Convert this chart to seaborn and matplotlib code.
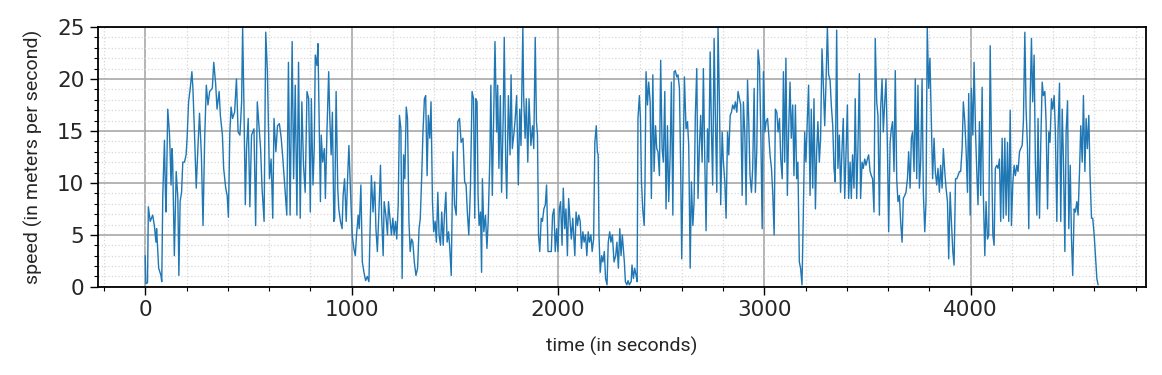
import matplotlib
matplotlib.use("Agg")
import matplotlib.pyplot as plt
from matplotlib.ticker import AutoMinorLocator
import seaborn as sns
import pandas as pd

# values (time in s, speed in m/s)
time_s = [
    0, 3, 11, 15, 24, 36, 44, 52, 55, 65, 76, 80, 85, 93, 98, 101, 109, 117, 120, 125,
    130, 133, 141, 150, 158, 163, 169, 176, 182, 190, 198, 203, 210, 218, 226, 231, 239, 247, 255, 263,
    272, 280, 288, 296, 304, 312, 325, 332, 341, 348, 358, 364, 374, 380, 390, 397, 403, 410, 416, 423,
    433, 442, 450, 459, 467, 472, 478, 485, 491, 499, 507, 515, 527, 535, 543, 553, 559, 566, 576, 584,
    592, 602, 610, 618, 624, 633, 641, 650, 659, 667, 678, 686, 694, 702, 712, 719, 727, 735, 743, 751,
    759, 767,
    775, 784, 792, 800, 805, 813, 819, 824, 832, 837, 844, 849, 853, 860, 868, 873, 881, 889, 894, 901,
    907, 914, 918, 925, 933, 938, 946, 954, 959, 966, 974, 980, 987, 995, 1003, 1011, 1018, 1024, 1032, 1037,
    1045, 1052, 1060, 1068, 1076, 1084, 1089, 1096, 1104, 1112, 1118, 1125, 1133, 1140, 1146, 1153, 1158, 1166, 1174, 1179,
    1187, 1193, 1200, 1206, 1213, 1219, 1226, 1232, 1239, 1245, 1252, 1258, 1265, 1271, 1278, 1284, 1291, 1297, 1304, 1312,
    1320, 1327, 1333, 1340, 1346, 1353, 1359, 1366, 1372, 1379, 1385, 1392, 1398, 1405, 1411, 1418, 1424, 1431, 1437, 1444,
    1450, 1457, 1463, 1470, 1476, 1483, 1491, 1499, 1507, 1515, 1523, 1531, 1540, 1548,
    1555, 1561, 1568, 1576, 1584, 1591, 1597, 1602, 1608, 1613, 1618, 1625, 1630, 1634, 1641, 1649, 1656, 1662, 1670, 1675,
    1682, 1688, 1695, 1703, 1708, 1714, 1721, 1727, 1735, 1740, 1747, 1752, 1760, 1768, 1773, 1779, 1786, 1792, 1800, 1808,
    1815, 1821, 1830, 1834, 1841, 1847, 1854, 1860, 1869, 1877, 1883, 1890, 1896, 1901, 1906, 1912, 1919, 1925, 1932, 1939,
    1945, 1952, 1958, 1968, 1974, 1981, 1987, 1994, 2000, 2007, 2013, 2020, 2026, 2033, 2039, 2046, 2052, 2059, 2065, 2072,
    2082, 2088, 2095, 2101, 2108, 2114, 2121, 2127, 2134, 2140, 2147, 2153, 2160, 2166, 2173, 2179, 2186, 2191, 2195, 2199,
    2205, 2212, 2218, 2225, 2231, 2238, 2244, 2251, 2257, 2264, 2272, 2280, 2286, 2293, 2300, 2306, 2312,
    2322, 2327, 2334, 2340, 2346, 2355, 2359, 2366, 2372, 2379, 2384, 2388, 2395, 2400, 2405, 2411, 2418, 2422, 2427, 2434,
    2440, 2447, 2453, 2460, 2466, 2473, 2479, 2485, 2492, 2498, 2505, 2511, 2518, 2524, 2531, 2537, 2544, 2550, 2557, 2563,
    2569, 2576, 2582, 2589, 2595, 2600, 2607, 2613, 2621, 2628, 2634, 2641, 2647, 2654, 2660, 2666, 2673, 2679, 2686, 2692,
    2699, 2705, 2712, 2718, 2725, 2731, 2738, 2744, 2750, 2757, 2763, 2770, 2776, 2783, 2789, 2796, 2802, 2809, 2815, 2822,
    2828, 2835, 2841, 2847, 2854, 2860, 2867, 2873, 2880, 2886, 2893, 2899, 2906, 2912, 2919, 2925, 2931, 2938, 2944, 2951,
    2957, 2964, 2970, 2977, 2983, 2990, 2996, 3003, 3009, 3016, 3022, 3028, 3035, 3041, 3048, 3054, 3061, 3067, 3074, 3080,
    3087, 3093,
    3099, 3105, 3112, 3118, 3125, 3131, 3138, 3144, 3151, 3157, 3163, 3170, 3176, 3183, 3189, 3196, 3202, 3209, 3215, 3222,
    3228, 3235, 3241, 3248, 3254, 3260, 3267, 3273, 3280, 3286, 3293, 3299, 3306, 3312, 3319, 3325, 3332, 3338, 3344, 3351,
    3357, 3364, 3370, 3377, 3383, 3390, 3396, 3403, 3409, 3416, 3422, 3428, 3435, 3441, 3448, 3454, 3461, 3467, 3474, 3480,
    3487, 3493, 3500, 3506, 3513, 3519, 3525, 3532, 3538, 3545, 3551, 3558, 3564, 3571, 3577, 3584, 3590, 3597, 3603, 3610,
    3616, 3622, 3629, 3635, 3642, 3648, 3655, 3661, 3668, 3674, 3681, 3687, 3694, 3700, 3707, 3713, 3719, 3726, 3732, 3739,
    3745, 3752, 3758, 3765, 3771, 3778, 3784, 3790, 3797, 3803, 3810, 3816, 3823, 3829, 3836, 3842, 3849, 3855, 3862, 3868,
    3875, 3881, 3888, 3894, 3901, 3907, 3914, 3920, 3927, 3933, 3939, 3946, 3952, 3959, 3965, 3972, 3978, 3985, 3991, 3998,
    4004, 4011, 4017, 4024, 4030, 4036, 4043, 4049, 4056, 4062, 4069, 4075, 4082, 4088, 4095, 4101, 4108, 4114, 4120, 4127,
    4133, 4140, 4146, 4153, 4159, 4166, 4172, 4179, 4185, 4192, 4198, 4205, 4211, 4217, 4224, 4230, 4237, 4243, 4250, 4256,
    4263, 4269, 4276, 4282, 4289, 4295, 4301, 4308, 4314, 4321, 4327, 4334, 4340, 4347, 4353, 4360, 4366, 4373, 4379, 4385,
    4392, 4398, 4405, 4411, 4418, 4424, 4431, 4437, 4444, 4450, 4457, 4463, 4470, 4476, 4483, 4489, 4495, 4502, 4508, 4515,
    4521, 4528, 4534, 4541, 4547, 4554, 4560, 4566, 4573, 4579, 4586, 4592, 4599, 4605, 4612, 4618,
]
speed_ms = [
    3.0, 0.3, 0.4, 7.7, 6.3, 6.9, 5.9, 4.3, 5.6, 1.8, 1.1, 0.5, 8.8, 14.1, 8.8, 7.2, 17.1, 14.9, 13.3, 9.8,
    13.3, 12.0, 3.0, 11.1, 8.5, 1.1, 8.2, 9.1, 12.0, 12.0, 12.7, 14.4, 17.8, 19.1, 20.7, 19.1, 14.6, 9.5, 13.3, 16.7,
    12.7, 5.9, 14.3, 19.4, 17.5, 18.8, 19.1, 21.6, 19.6, 17.1, 18.8, 16.5, 14.6, 11.4, 9.5, 8.8, 6.7, 14.9, 17.3, 16.2,
    16.8, 20.0, 14.9, 14.6, 17.8, 25.0, 17.8, 7.9, 13.3, 16.2, 7.7, 14.6, 15.2, 5.9, 17.8, 14.9, 13.3, 9.5, 6.3, 24.5,
    20.7, 10.4, 12.3, 6.6, 16.2, 13.0, 15.5, 15.7, 14.3, 12.3, 9.1, 6.9, 21.6, 6.9, 23.6, 10.4, 19.4, 6.9, 21.6, 6.6,
    17.8, 11.7,
    9.1, 18.8, 18.1, 7.2, 18.1, 9.8, 13.3, 22.3, 21.3, 23.4, 14.6, 8.2, 14.6, 12.0, 13.3, 8.5, 15.2, 20.7, 16.5, 12.7,
    16.8, 6.3, 6.6, 18.8, 9.5, 7.5, 6.3, 5.6, 8.8, 10.4, 6.3, 10.1, 13.6, 9.1, 5.0, 3.7, 3.0, 5.0, 6.9, 5.6,
    9.8, 2.4, 1.4, 0.6, 1.0, 0.5, 5.0, 10.7, 7.2, 10.1, 5.6, 3.4, 7.5, 11.7, 6.6, 3.0, 8.2, 6.9, 5.0, 8.2,
    6.3, 5.0, 6.6, 5.0, 6.3, 4.6, 7.9, 16.5, 15.2, 0.8, 12.7, 10.4, 17.3, 16.2, 6.3, 3.4, 4.6, 4.3, 2.4, 1.1,
    1.8, 5.6, 6.6, 10.7, 14.9, 18.1, 18.4, 10.7, 16.5, 14.3, 17.8, 8.2, 5.3, 6.3, 4.3, 9.1, 5.0, 4.0, 7.2, 4.0,
    6.9, 9.1, 4.3, 5.3, 3.7, 1.1, 13.0, 7.9, 6.9, 15.9, 16.2, 13.9, 14.3, 10.1,
    9.8, 7.2, 5.0, 9.5, 18.8, 18.1, 6.6, 18.1, 17.8, 8.8, 5.9, 7.2, 1.4, 10.4, 5.3, 6.9, 3.7, 6.3, 12.3, 19.4,
    8.8, 15.9, 23.6, 14.9, 19.4, 11.4, 18.4, 9.1, 16.5, 24.0, 12.0, 8.5, 18.4, 12.7, 20.4, 13.3, 14.6, 15.9, 18.4, 9.8,
    17.1, 13.6, 25.0, 18.4, 14.3, 18.1, 12.0, 18.1, 13.6, 15.5, 13.3, 24.0, 15.9, 14.6, 5.0, 3.4, 6.6, 6.3, 7.5, 7.9,
    9.8, 3.4, 3.4, 3.4, 6.9, 7.5, 3.4, 5.6, 3.4, 7.5, 8.2, 4.0, 9.5, 5.6, 7.5, 3.0, 8.5, 6.3, 4.6, 6.6,
    3.0, 7.2, 5.9, 6.9, 6.3, 3.7, 5.3, 4.3, 5.0, 3.0, 5.3, 4.3, 5.0, 3.4, 4.6, 13.9, 15.5, 13.0, 12.7, 5.0,
    1.4, 3.0, 2.4, 3.4, 0.8, 0.2, 4.3, 5.3, 4.3, 5.0, 2.4, 3.0, 4.3, 1.8, 5.6, 3.0, 5.0,
    2.4, 0.5, 0.2, 0.6, 0.2, 0.5, 2.1, 0.8, 1.8, 1.1, 0.5, 16.2, 18.4, 16.2, 10.1, 7.5, 5.9, 9.8, 20.7, 17.5,
    19.7, 17.8, 8.5, 20.4, 11.1, 15.5, 13.3, 13.0, 10.7, 21.8, 13.3, 12.0, 18.8, 7.5, 15.5, 8.2, 12.7, 19.7, 6.9, 20.7,
    20.8, 20.2, 20.4, 19.1, 11.4, 2.7, 12.0, 20.2, 15.2, 15.9, 13.6, 1.8, 10.1, 5.9, 8.2, 16.5, 21.0, 8.5, 13.6, 16.5,
    12.0, 21.0, 12.0, 5.4, 15.2, 12.0, 22.6, 15.2, 9.8, 23.9, 16.5, 9.1, 25.0, 17.5, 7.9, 14.9, 12.0, 10.1, 6.6, 14.9,
    12.7, 16.5, 16.8, 17.5, 17.1, 17.8, 16.8, 18.8, 18.1, 17.5, 8.8, 17.8, 14.6, 7.9, 19.9, 15.9, 10.7, 9.1, 11.4, 19.1,
    9.1, 13.3, 22.8, 21.3, 15.2, 5.6, 20.7, 14.9, 15.9, 16.2, 14.6, 12.7, 11.4, 9.1, 5.0, 17.1, 16.8, 14.9, 16.2, 12.3,
    10.4, 20.7,
    12.0, 22.0, 8.8, 14.9, 19.7, 14.3, 17.5, 10.7, 17.5, 10.4, 12.0, 2.4, 1.8, 0.2, 6.6, 14.9, 12.0, 16.2, 19.4, 8.8,
    17.1, 9.5, 18.1, 7.5, 13.0, 15.9, 12.0, 14.3, 22.9, 19.7, 15.5, 19.4, 25.0, 20.4, 19.9, 17.5, 15.5, 11.4, 10.1, 24.7,
    11.4, 14.6, 9.1, 13.3, 16.2, 8.5, 12.7, 17.5, 8.5, 12.0, 8.5, 12.7, 9.5, 18.1, 8.5, 13.3, 20.5, 8.5, 12.0, 11.4,
    12.3, 11.7, 12.3, 12.7, 11.1, 10.7, 10.4, 7.2, 23.9, 17.8, 16.5, 6.9, 17.1, 20.0, 14.9, 17.8, 20.0, 13.3, 5.3, 13.9,
    15.2, 15.9, 11.1, 20.8, 10.4, 8.2, 8.8, 6.3, 4.3, 8.5, 8.8, 9.1, 10.4, 13.0, 9.5, 14.3, 14.9, 11.1, 20.0, 10.4,
    19.4, 9.5, 12.0, 20.0, 9.1, 5.3, 8.2, 25.0, 19.1, 22.0, 15.9, 10.4, 14.3, 11.1, 9.8, 11.4, 9.1, 11.7, 9.5, 13.3,
    11.1, 9.5, 8.2, 2.7, 9.1, 6.3, 3.4, 2.1, 10.4, 10.4, 10.7, 11.1, 11.1, 13.3, 17.8, 15.9, 13.3, 9.1, 18.6, 6.9,
    19.1, 14.6, 21.6, 14.9, 11.1, 7.9, 15.9, 8.8, 19.2, 8.8, 3.0, 8.2, 4.6, 5.0, 23.2, 13.9, 5.0, 4.0, 11.4, 11.7,
    11.4, 12.3, 6.3, 14.3, 6.6, 14.3, 6.9, 13.9, 6.3, 17.0, 5.9, 10.1, 11.7, 10.7, 11.7, 11.1, 13.0, 13.3, 13.6, 15.9,
    24.5, 17.1, 13.3, 5.6, 18.1, 23.9, 17.8, 22.3, 12.0, 6.9, 16.2, 6.6, 13.6, 19.7, 18.4, 18.8, 15.9, 7.5, 14.9, 13.9,
    18.1, 17.1, 18.4, 14.9, 6.3, 15.2, 19.6, 6.3, 17.1, 12.3, 3.4, 14.9, 17.9, 5.6, 11.7, 4.6, 1.1, 7.5, 7.2, 8.2,
    6.9, 11.1, 15.5, 12.0, 18.4, 11.1, 16.2, 13.3, 16.5, 10.7, 6.6, 6.6, 5.0, 3.0, 0.8, 0.2,
]

df = pd.DataFrame({"time": time_s, "speed": speed_ms})

sns.set_style("ticks")
plt.rcParams["font.family"] = ["DejaVu Sans"]

fig, ax = plt.subplots(figsize=(11.62, 3.75), dpi=100)
fig.subplots_adjust(left=0.084, right=0.986, top=0.928, bottom=0.235)

sns.lineplot(data=df, x="time", y="speed", ax=ax, color="#1f77b4", linewidth=1.0)

ax.set_ylim(0, 25)
ax.margins(x=0.05)
ax.xaxis.set_minor_locator(AutoMinorLocator(5))
ax.yaxis.set_minor_locator(AutoMinorLocator(5))
ax.grid(which="major", color="#a8a8a8", linewidth=1.2)
ax.grid(which="minor", color="#d8d8d8", linestyle=":", linewidth=0.9)
ax.set_axisbelow(True)

ax.tick_params(which="major", labelsize=15.5, length=6, width=1, color="black")
ax.tick_params(which="minor", length=3, width=0.8, color="black")
for s in ax.spines.values():
    s.set_color("black")
    s.set_linewidth(1.3)

ax.set_xlabel("time (in seconds)", fontsize=14, family=["Roboto", "DejaVu Sans"], labelpad=12)
ax.set_ylabel("speed (in meters per second)", fontsize=14, family=["Roboto", "DejaVu Sans"], labelpad=10)

fig.savefig("out.png", dpi=100)
